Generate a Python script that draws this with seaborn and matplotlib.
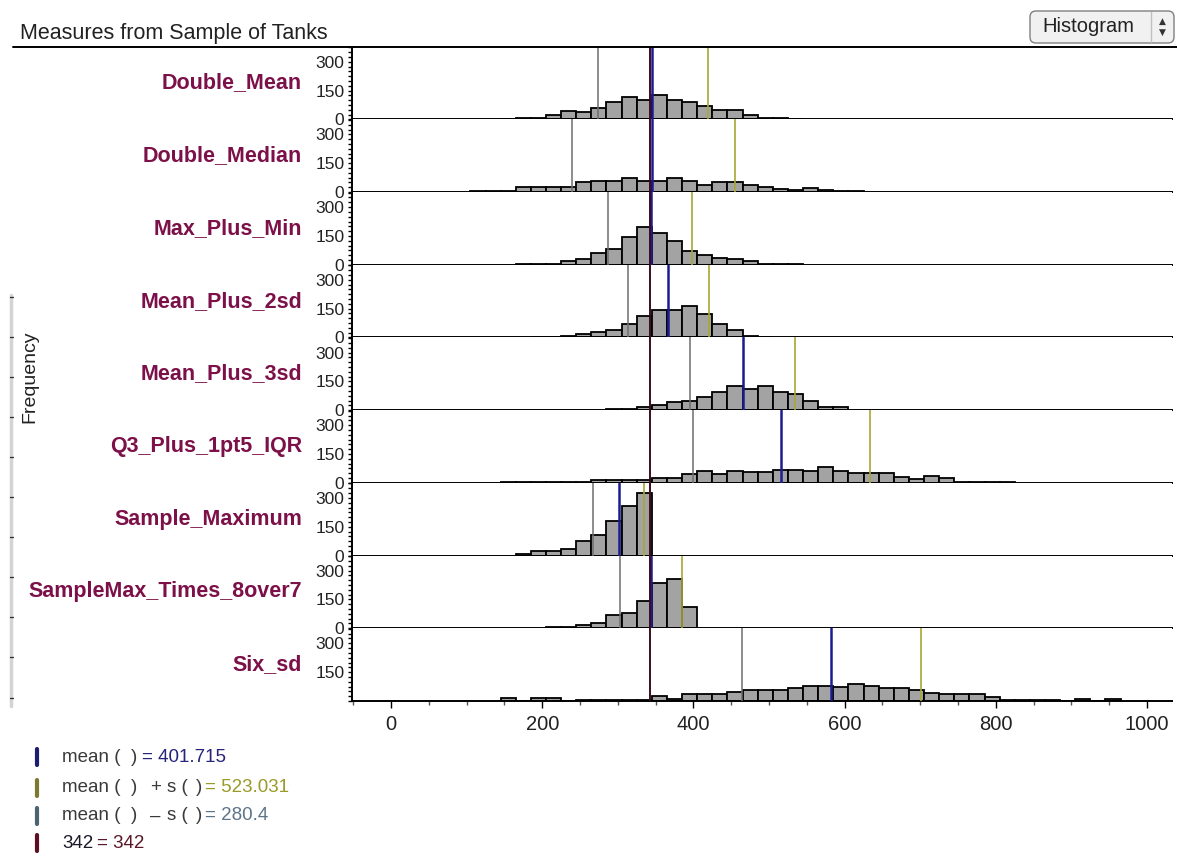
import numpy as np
import pandas as pd
import matplotlib

matplotlib.use("Agg")
import matplotlib.pyplot as plt
import seaborn as sns
from matplotlib.lines import Line2D
from matplotlib.patches import FancyBboxPatch
from matplotlib.ticker import MultipleLocator

BIN_WIDTH = 20

measures = ["Double_Mean", "Double_Median", "Max_Plus_Min", "Mean_Plus_2sd",
            "Mean_Plus_3sd", "Q3_Plus_1pt5_IQR", "Sample_Maximum",
            "SampleMax_Times_8over7", "Six_sd"]

# left edge of the first bin of each measure
first_bin = [145, 105, 165, 185, 285, 145, 165, 205, 145]

double_mean = [4, 5, 6, 21, 43, 38, 57, 93, 116, 102, 126, 103, 91, 70, 47, 49, 21, 6, 5, 4]
double_median = [4, 5, 5, 26, 26, 26, 26, 52, 60, 60, 73, 60, 60, 73, 60, 38, 51, 51, 38,
                 26, 17, 10, 19, 10, 5, 4]
max_plus_min = [4, 5, 6, 22, 31, 59, 83, 145, 197, 166, 124, 73, 50, 36, 28, 21, 6, 5, 4]
mean_plus_2sd = [4, 5, 6, 17, 31, 40, 72, 112, 141, 141, 164, 121, 72, 40, 6, 5]
mean_plus_3sd = [5, 6, 17, 28, 43, 48, 71, 93, 126, 110, 126, 93, 83, 50, 16, 19]
q3_plus_iqr = [4, 4, 5, 5, 5, 6, 16, 16, 16, 16, 28, 28, 48, 62, 48, 62, 58, 58, 69, 68, 60,
               85, 60, 50, 50, 50, 31, 19, 36, 24, 5, 4, 4, 3]
sample_max = [6, 24, 24, 33, 76, 107, 179, 259, 325]
sample_max_8over7 = [5, 6, 17, 29, 69, 81, 143, 233, 257, 112]
six_sd = [13, 0, 13, 13, 0, 4, 4, 4, 4, 4, 24, 10, 34, 34, 34, 47, 56, 56, 56, 67, 76, 76, 72,
          88, 78, 67, 67, 57, 42, 34, 34, 34, 22, 5, 5, 5, 5, 0, 12, 0, 12]

all_counts = [double_mean, double_median, max_plus_min, mean_plus_2sd, mean_plus_3sd,
              q3_plus_iqr, sample_max, sample_max_8over7, six_sd]

# plotted reference values per row
mean_vals = [345, 345, 344, 366, 465, 516, 301, 344, 582]
mean_plus_s = [419, 455, 398, 420, 534, 634, 335, 385, 701]
mean_minus_s = [274, 240, 287, 314, 396, 399, 267, 303, 464]
ref_value = 342

legend_mean = "401.715"
legend_plus = "523.031"
legend_minus = "280.4"

rows = []
for name, start, counts in zip(measures, first_bin, all_counts):
    for i, c in enumerate(counts):
        rows.append({"measure": name, "center": start + BIN_WIDTH * (i + 0.5), "count": c})
df = pd.DataFrame(rows)

sns.set_style("white")
plt.rcParams["font.family"] = ["Liberation Sans", "DejaVu Sans"]

W, H = 1177, 865
fig, axes = plt.subplots(len(measures), 1, figsize=(W / 100, H / 100), dpi=100, sharex=True)
fig.subplots_adjust(left=352 / W, right=1172 / W, top=1 - 46.7 / H, bottom=1 - 701 / H, hspace=0)


def fx(px):
    return px / W


def fy(py):
    return 1 - py / H


for i, (ax, name) in enumerate(zip(axes, measures)):
    sub = df[df["measure"] == name]
    start = first_bin[i]
    n = len(sub)
    sns.histplot(data=sub, x="center", weights="count", binwidth=BIN_WIDTH,
                 binrange=(start, start + BIN_WIDTH * n), ax=ax,
                 color="#a3a3a3", edgecolor="black", linewidth=1.3, alpha=1)
    ax.axvline(mean_minus_s[i], color="#6e6e6e", lw=1.1, zorder=5)
    ax.axvline(mean_plus_s[i], color="#a8a830", lw=1.2, zorder=5)
    ax.axvline(mean_vals[i], color="#1c1c90", lw=1.8, zorder=6)
    ax.axvline(ref_value, color="#3c0c1c", lw=1.4, zorder=6)

    ax.set_xlim(-51.6, 1033)
    ax.set_ylim(0, 378)
    ax.set_ylabel("")
    ax.set_xlabel("")
    for s in ["top", "right"]:
        ax.spines[s].set_visible(False)
    for s in ["left", "bottom"]:
        ax.spines[s].set_color("black")
        ax.spines[s].set_linewidth(1.4)
    ax.set_yticks([0, 150, 300])
    ax.set_yticklabels(["0", "150", "300"] if i < len(measures) - 1 else ["", "150", "300"])
    ax.yaxis.set_minor_locator(MultipleLocator(25))
    ax.tick_params(axis="y", which="both", left=True, direction="out", length=3,
                   width=1, color="black", pad=2.5, labelsize=12.5, labelcolor="#222222")
    ax.text(-0.061, 0.5, name, transform=ax.transAxes, ha="right", va="center",
            fontsize=15.5, fontweight="bold", color="#7c1048")
    if i < len(measures) - 1:
        ax.tick_params(axis="x", which="both", bottom=False, labelbottom=False)
    else:
        ax.set_xticks([0, 200, 400, 600, 800, 1000])
        ax.xaxis.set_minor_locator(MultipleLocator(50))
        ax.tick_params(axis="x", which="major", bottom=True, direction="out", length=5,
                       width=1, color="black", pad=5, labelsize=14.5, labelcolor="#222222")
        ax.tick_params(axis="x", which="minor", bottom=True, direction="out", length=3,
                       width=1, color="#555555")

# title and its underline
fig.text(fx(20), fy(39), "Measures from Sample of Tanks", fontsize=15.5, color="#222222",
         va="baseline", ha="left")
fig.add_artist(Line2D([fx(13), fx(1177)], [fy(46.7), fy(46.7)], color="black", lw=1.4))

# y label and left ruler
fig.text(fx(30), fy(377), "Frequency", rotation=90, fontsize=14, color="#222222",
         ha="center", va="center")
fig.add_artist(Line2D([fx(11), fx(11)], [fy(295), fy(706)], color="#d4d4d4", lw=2.5))
for ty in [297, 337, 377, 417, 457, 497, 537, 577, 617, 657, 698]:
    fig.add_artist(Line2D([fx(10), fx(13)], [fy(ty), fy(ty)], color="#333333", lw=1))

# dropdown button
box = FancyBboxPatch((10.30, (H - 43) / 100), 1.44, 0.32,
                     boxstyle="round,pad=0,rounding_size=0.06",
                     transform=fig.dpi_scale_trans, facecolor="#f1f1f1",
                     edgecolor="#808080", lw=1)
fig.add_artist(box)
fig.add_artist(Line2D([fx(1151), fx(1151)], [fy(12), fy(42)], color="#c0c0c0", lw=1))
fig.text(fx(1042), fy(27), "Histogram", fontsize=14.5, color="#222222", ha="left", va="center")
fig.text(fx(1162), fy(21.5), "\u25B2", fontsize=6.5, color="#333333", ha="center", va="center",
         family=["DejaVu Sans"])
fig.text(fx(1162), fy(32.5), "\u25BC", fontsize=6.5, color="#333333", ha="center", va="center",
         family=["DejaVu Sans"])

# legend at bottom left, drawn piece by piece
gray = "#3a3a3a"
leg_rows = [
    (757, "#1c1c70", [(62, "mean (", gray), (131, ")", gray),
                      (142, "= " + legend_mean, "#25257a")]),
    (788, "#7a7a30", [(62, "mean (", gray), (131, ")", gray), (150, "+", gray),
                      (167, "s (", gray), (196, ")", gray),
                      (205, "= " + legend_plus, "#9a9a28")]),
    (816, "#4a6272", [(62, "mean (", gray), (131, ")", gray), (150, "\u2013", gray),
                      (167, "s (", gray), (196, ")", gray),
                      (205, "= " + legend_minus, "#5c7488")]),
    (843, "#5a1020", [(62, "342", "#1a1a2a"), (97, "= 342", "#5a1828")]),
]
for y, mcol, pieces in leg_rows:
    fig.add_artist(Line2D([fx(37), fx(37)], [fy(y - 8), fy(y + 8)], color=mcol, lw=3))
    for px, txt, col in pieces:
        fig.text(fx(px), fy(y), txt, fontsize=13.5, color=col, ha="left", va="center")

plt.savefig("out.png", dpi=100)
plt.close()
